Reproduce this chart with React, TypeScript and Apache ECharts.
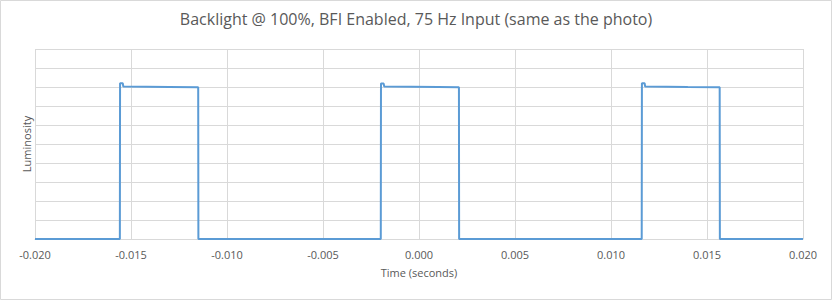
import React, { useEffect, useRef } from "react";
import * as echarts from "echarts";

const chartTitle = "Backlight @ 100%, BFI Enabled, 75 Hz Input (same as the photo)";
const xAxisName = "Time (seconds)";
const yAxisName = "Luminosity";

// Time samples (seconds) and measured luminosity (relative)
const timeSeconds = [
  -0.02, -0.01558, -0.01557, -0.01543, -0.0154, -0.013, -0.0115, -0.01149,
  -0.00199, -0.00198, -0.00184, -0.00181, 0.001, 0.00208, 0.00209,
  0.0116, 0.01161, 0.01175, 0.01178, 0.014, 0.01566, 0.01567, 0.02,
];
const luminosity = [
  0, 0, 0.82, 0.82, 0.802, 0.8, 0.799, 0,
  0, 0.818, 0.818, 0.802, 0.8, 0.799, 0,
  0, 0.82, 0.82, 0.802, 0.8, 0.799, 0, 0,
];

const xMin = -0.02;
const xMax = 0.02;
const xInterval = 0.005;
const yMin = 0;
const yMax = 1;
const yInterval = 0.1;

export default function App() {
  const ref = useRef<HTMLDivElement>(null);

  useEffect(() => {
    document.body.style.margin = "0";
    const chart = echarts.init(ref.current!, undefined, { renderer: "svg" });
    const data = timeSeconds.map((t, i) => [t, luminosity[i]]);
    const font = "'Open Sans', sans-serif";
    chart.setOption({
      animation: false,
      backgroundColor: "#ffffff",
      title: {
        text: chartTitle,
        left: "center",
        top: 6,
        textStyle: { fontFamily: font, fontSize: 16, fontWeight: "normal", color: "#595959" },
      },
      graphic: [
        {
          type: "rect",
          shape: { x: 0.5, y: 0.5, width: 831, height: 299 },
          style: { fill: "none", stroke: "#d9d9d9", lineWidth: 1 },
          silent: true,
        },
      ],
      grid: { left: 35, right: 29, top: 49, bottom: 61 },
      xAxis: {
        type: "value",
        min: xMin,
        max: xMax,
        interval: xInterval,
        name: xAxisName,
        nameLocation: "middle",
        nameGap: 28,
        nameTextStyle: { fontFamily: font, fontSize: 11, color: "#595959" },
        axisLine: { show: true, lineStyle: { color: "#d9d9d9" } },
        axisTick: { show: false },
        axisLabel: {
          fontFamily: font,
          fontSize: 11,
          color: "#595959",
          margin: 10,
          formatter: (v: number) => v.toFixed(3),
        },
        splitLine: { show: true, lineStyle: { color: "#d9d9d9", width: 1 } },
      },
      yAxis: {
        type: "value",
        min: yMin,
        max: yMax,
        interval: yInterval,
        name: yAxisName,
        nameLocation: "middle",
        nameGap: 3,
        nameTextStyle: { fontFamily: font, fontSize: 11, color: "#595959" },
        axisLine: { show: false },
        axisTick: { show: false },
        axisLabel: { show: false },
        splitLine: { show: true, lineStyle: { color: "#d9d9d9", width: 1 } },
      },
      series: [
        {
          type: "line",
          data,
          showSymbol: false,
          symbol: "none",
          lineStyle: { color: "#5b9bd5", width: 2 },
          itemStyle: { color: "#5b9bd5" },
        },
      ],
    });
    return () => chart.dispose();
  }, []);

  return (
    <div
      ref={ref}
      style={{ position: "absolute", left: 0, top: 0, width: 832, height: 300 }}
    />
  );
}
